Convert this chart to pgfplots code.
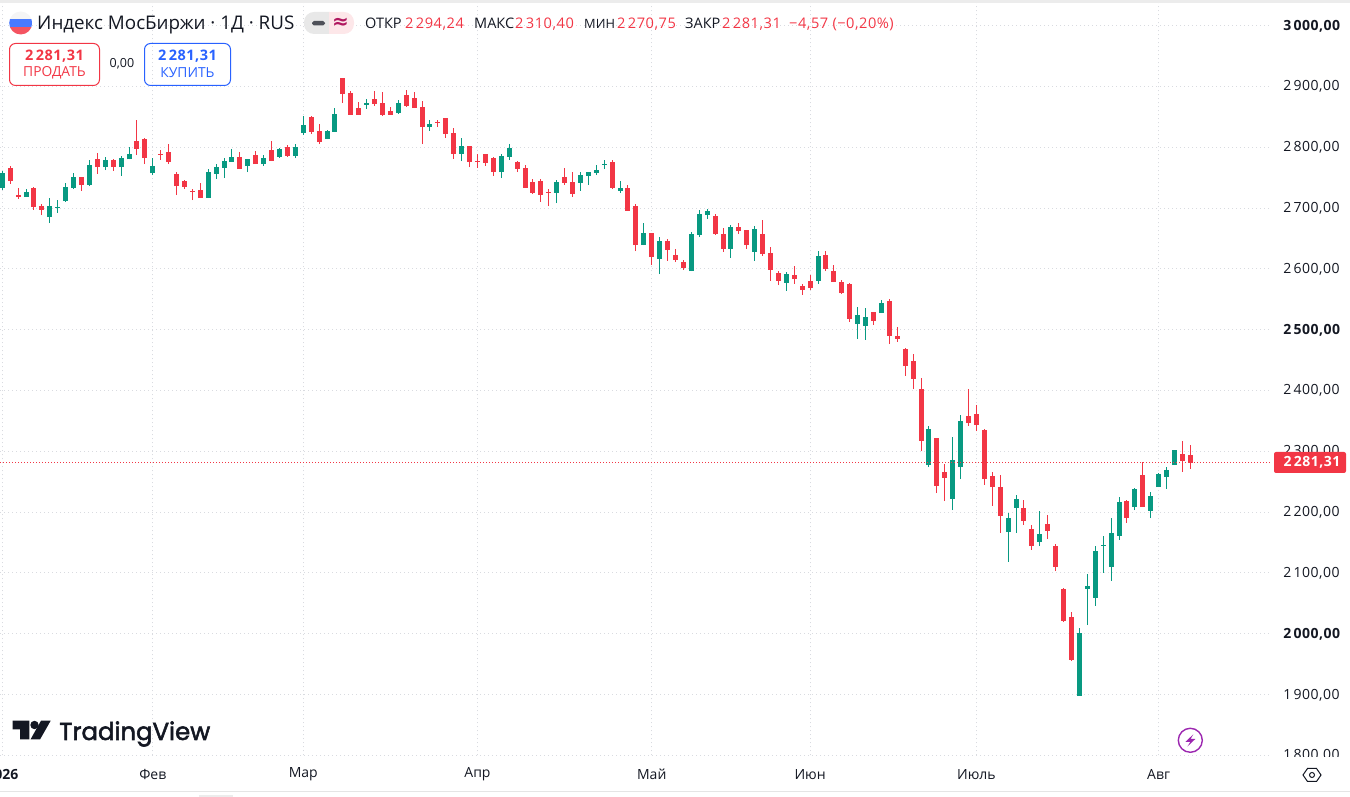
\documentclass[border=0pt]{standalone}
\usepackage{pgfplots}
\usepackage{pgfplotstable}
\usepackage{fontspec}
\pgfplotsset{compat=1.18}
\setmainfont{Open Sans}
\newfontfamily\numfont[LetterSpace=3.5]{Open Sans}
\newfontfamily\tvfont[FakeBold=2.2]{Poppins}
\newfontfamily\symfont{DejaVu Sans}
\definecolor{cred}{HTML}{F23645}
\definecolor{cgreen}{HTML}{089981}
\definecolor{cgrid}{HTML}{D9DBE0}
\definecolor{ctext}{HTML}{131722}
\definecolor{cblue}{HTML}{2962FF}
\definecolor{cpurple}{HTML}{9C27B0}
\definecolor{cmaroon}{HTML}{B0175F}
\pgfplotstableread{
i o h l c
0 2732.8 2760.8 2729.5 2757.5
3 2718 2731 2718 2726
6 2685 2716 2675 2703
7 2700.5 2713 2692 2701.6
8 2711 2741 2710 2734
9 2733 2757 2731 2751
11 2738 2779 2736 2771
13 2767 2784 2762 2779
15 2767 2785 2753 2782
16 2780 2800 2780 2789
19 2757 2782 2754 2769
26 2716 2764 2716 2759
27 2756 2772 2748 2767
28 2766 2782 2749 2777
29 2776 2797 2776 2784
31 2769 2780.5 2759 2780.5
33 2772 2787 2769 2782
35 2784 2799 2782 2797
37 2785.5 2805 2782 2800
38 2823 2851 2820 2836
41 2813 2828 2813 2827
42 2825 2864 2825 2854
46 2869.3 2879 2863 2872.6
50 2856 2877.5 2854.5 2873
54 2833 2845 2827 2838
58 2789 2815 2777 2802
63 2759 2789 2749 2785.5
64 2784 2805 2779 2799
70 2725 2746 2708 2743
73 2741 2759 2728 2754
74 2753 2759 2738 2759
75 2757.5 2771 2754 2762.4
76 2771.2 2779 2764 2772.3
78 2728 2744 2725 2733
81 2639 2675 2639 2659
83 2616 2652 2591 2646
87 2596 2660.5 2596 2657
88 2656 2697 2652 2690
89 2688 2698 2682 2695
92 2632.5 2672 2618 2669
95 2628 2670 2613 2665
99 2577 2595 2563.5 2591
103 2580 2629 2575 2621
108 2509 2537 2485 2524
109 2506 2535.5 2483 2521
111 2527 2549 2527 2544
117 2277 2341.5 2274 2337
120 2221.5 2323 2203 2286
121 2274 2360 2254 2350
127 2167 2198.5 2118 2190
128 2207 2228 2166 2221.5
131 2151 2202 2144 2164
136 1898 2009 1898 2001
137 2073.5 2098 2014 2078.5
138 2059 2144 2046 2136
139 2144.2 2161 2100 2145.8
140 2110 2190 2087 2166
141 2161 2225 2154 2216.5
143 2208 2240 2203 2238
145 2202 2233 2190 2226
146 2241 2264 2241 2263
147 2258 2274 2238 2269
148 2277 2302 2277 2302
}\greentable
\pgfplotstableread{
i o h l c
1 2766 2769 2740 2745
2 2721 2733 2715 2718
4 2733 2734 2697 2702
5 2703 2706 2688 2697
10 2751 2751 2728 2738
12 2780 2790 2756 2767
14 2779 2780 2761 2767
17 2810 2845 2787 2797
18 2813 2815 2772 2782
20 2789 2795 2779 2787.6
21 2792 2805 2772 2776
22 2756 2759 2721 2736
23 2744 2746 2731 2735
24 2728.4 2731 2713 2726.8
25 2730 2741 2716 2716
30 2784 2792 2764 2764
32 2787 2794 2772 2772
34 2795 2810 2777 2777
36 2800 2803 2784 2785.5
39 2850 2851 2822 2825
40 2827 2838 2805 2808
43 2914 2914 2873 2887
44 2889 2892 2853 2853
45 2864 2874 2853 2853
47 2879 2892 2868 2871
48 2873 2891 2851 2853
49 2859.5 2866 2853 2853
51 2886 2894 2866 2868
52 2881 2891 2864 2864
53 2866 2876 2805 2833
55 2841.9 2844.6 2833 2840.3
56 2848 2848 2815 2822
57 2823 2831.5 2780.5 2789
59 2802 2802 2767 2776
60 2777.2 2789 2766 2775.6
61 2789 2789 2769 2774
62 2782 2784 2753 2759
65 2776 2777 2759 2764
66 2766 2771 2733 2733
67 2743 2748 2723 2725
68 2744 2748 2710 2721
69 2726.3 2731 2703 2725.2
71 2751 2766 2738 2741
72 2743 2759 2718 2723
77 2776 2779 2731 2733
79 2733 2738 2695 2695
80 2703 2706 2629 2639
82 2659 2659 2606 2619
84 2646 2649 2613 2631
85 2623 2632 2611 2614
86 2611 2614.5 2598 2601
90 2687 2690 2656 2657
91 2657 2667 2628 2632.5
93 2669 2675 2657 2662
94 2664 2664 2632.5 2639
96 2657 2680 2621 2624
97 2626 2636 2580 2598
98 2593 2596 2573 2580
100 2590 2605 2575 2583
101 2572 2575 2557 2565
102 2580 2590 2565 2568
104 2623 2629 2596 2600
105 2596 2606 2578 2578
106 2578 2582 2559 2560
107 2575 2577 2512.5 2517.5
110 2529 2529 2508 2514
112 2547 2550 2476 2489.5
113 2489.5 2504 2480 2485
114 2468 2470 2424 2440
115 2448 2460 2402 2419
116 2402 2420 2300 2317
118 2322 2322 2231 2243
119 2266 2279 2218 2256
122 2358 2402 2341.5 2346
123 2361 2376 2333 2343
124 2335 2337 2244.5 2254
125 2259 2266 2210 2241
126 2241 2261 2166 2193.5
129 2207 2220 2179 2185
130 2172 2179 2138 2144
132 2180 2195 2156 2169
133 2144 2147 2103 2110
134 2073.5 2074.6 2019 2021
135 2027.5 2036 1955 1957
142 2218 2220 2182 2190
144 2261 2282 2208 2208
149 2295.5 2317 2266 2284
150 2294.24 2310.4 2270.75 2281.31
}\redtable
\begin{document}
\begin{tikzpicture}
\useasboundingbox (0,0) rectangle (1350pt,797pt);
\begin{axis}[
  at={(0pt,41.7pt)}, anchor=south west,
  scale only axis, width=1271.7pt, height=755.3pt,
  xmin=-0.29, xmax=160.28, ymin=1800, ymax=3041.9,
  axis line style={draw=none}, major tick length=0pt,
  grid=major,
  grid style={color=cgrid, line width=0.8pt, dash pattern=on 1pt off 3pt},
  xtick={0,19,38,60,82,102,123,146},
  xticklabels={\textbf{2026},Фев,Мар,Апр,Май,Июн,Июль,Авг},
  xticklabel style={font=\fontsize{14}{14}\selectfont, text=ctext, anchor=center, yshift=-19pt},
  ytick={1800,1900,...,3000},
  yticklabels={{1\,800,00},{1\,900,00},{\textbf{2\,000,00}},{2\,100,00},{2\,200,00},{2\,300,00},{2\,400,00},{\textbf{2\,500,00}},{2\,600,00},{2\,700,00},{2\,800,00},{2\,900,00},{\textbf{3\,000,00}}},
  yticklabel pos=right,
  yticklabel style={font=\numfont\fontsize{14}{14}\selectfont, text=ctext, anchor=west, xshift=8pt, yshift=-0.4pt},
]
\addplot[draw=none, no markers, error bars/.cd, y dir=plus, y explicit, error mark=none, error bar style={line width=1pt, draw=cgreen}]
  table[x=i, y=l, y error expr=\thisrow{h}-\thisrow{l}] {\greentable};
\addplot[draw=none, no markers, error bars/.cd, y dir=plus, y explicit, error mark=none, error bar style={line width=5pt, draw=cgreen}]
  table[x=i, y=o, y error expr=\thisrow{c}-\thisrow{o}] {\greentable};
\addplot[draw=none, no markers, error bars/.cd, y dir=plus, y explicit, error mark=none, error bar style={line width=1pt, draw=cred}]
  table[x=i, y=l, y error expr=\thisrow{h}-\thisrow{l}] {\redtable};
\addplot[draw=none, no markers, error bars/.cd, y dir=plus, y explicit, error mark=none, error bar style={line width=5pt, draw=cred}]
  table[x=i, y=c, y error expr=\thisrow{o}-\thisrow{c}] {\redtable};
\addplot[cred, line width=0.8pt, dash pattern=on 1pt off 2pt] coordinates {(-0.29,2281.31) (160.28,2281.31)};
\end{axis}
\begin{scope}[x=1pt, y=-1pt, yshift=797pt]
% page strips
\fill[gray!15] (0,0) rectangle (1350,3);
\fill[gray!20] (0,791) rectangle (1350,792);
\fill[gray!15] (199,795) rectangle (233,797);
% clip 1800 label
\fill[white] (1274,757) rectangle (1350,790);
% flag
\begin{scope}
\clip (20.7,23) circle (11.5);
\fill[gray!8] (9,11) rectangle (33,19);
\fill[cblue!85!white] (9,19) rectangle (33,27);
\fill[cred!85!white] (9,27) rectangle (33,35);
\end{scope}
% title
\node[anchor=base west, inner sep=0, text=ctext, font=\fontsize{18.8}{18.8}\selectfont] at (37,30) {Индекс МосБиржи · 1Д · RUS};
% pill
\fill[gray!18, rounded corners=10pt] (304,12) rectangle (340,34);
\fill[cred!12, rounded corners=10pt] (329,12) rectangle (354,34);
\fill[cred!12] (329,12) rectangle (340,34);
\fill[ctext!75, rounded corners=1.8pt] (312,21) rectangle (325,25.5);
\node[text=cmaroon, font=\symfont\bfseries\fontsize{20}{20}\selectfont, inner sep=0] at (340.5,23) {≈};
% OHLC
\tikzset{hdr/.style={anchor=base west, inner sep=0, font=\fontsize{14.5}{14.5}\selectfont},
         hnum/.style={anchor=base west, inner sep=0, text=cred, font=\numfont\fontsize{14.6}{14.6}\selectfont}}
\node[hdr, text=ctext] at (365,29) {ОТКР};
\node[hnum] at (405,29) {2\,294,24};
\node[hdr, text=ctext] at (474,29) {МАКС};
\node[hnum] at (515,29) {2\,310,40};
\node[hdr, text=ctext, font=\fontsize{12.8}{12.8}\selectfont] at (584,29) {МИН};
\node[hnum] at (617,29) {2\,270,75};
\node[hdr, text=ctext] at (685,29) {ЗАКР};
\node[hnum] at (722,29) {2\,281,31};
\node[hnum] at (789,29) {−4,57 (−0,20\%)};
% buttons
\draw[cred, line width=1pt, rounded corners=6pt] (9.5,43.5) rectangle (99.5,85.5);
\node[text=cred, font=\numfont\bfseries\fontsize{14.5}{14.5}\selectfont, inner sep=0] at (54.5,56.5) {2\,281,31};
\node[text=cred, font=\fontsize{13.8}{13.8}\selectfont, inner sep=0] at (54.5,73) {ПРОДАТЬ};
\node[text=ctext, font=\fontsize{12.5}{12.5}\selectfont, inner sep=0] at (122,63.5) {0,00};
\draw[cblue, line width=1pt, rounded corners=6pt] (144.5,43.5) rectangle (230.5,85.5);
\node[text=cblue, font=\numfont\bfseries\fontsize{14.5}{14.5}\selectfont, inner sep=0] at (187.5,56.5) {2\,281,31};
\node[text=cblue, font=\fontsize{13.8}{13.8}\selectfont, inner sep=0] at (187.5,73) {КУПИТЬ};
% price tag
\fill[cred, rounded corners=2pt] (1274,452) rectangle (1346,473);
\node[text=white, font=\numfont\bfseries\fontsize{14}{14}\selectfont, inner sep=0] at (1312,462.6) {2\,281,31};
% logo
\fill[ctext] (12.7,720.7) -- (29.3,720.7) -- (29.3,739.5) -- (20,739.5) -- (20,729.5) -- (12.7,729.5) -- cycle;
\fill[ctext] (34.5,725) circle (4.2);
\fill[ctext] (41,720.7) -- (50.7,720.7) -- (40,739.5) -- (30.5,739.5) -- cycle;
\node[anchor=base west, inner sep=0, text=ctext, font=\tvfont\fontsize{24.4}{24.4}\selectfont] at (59,740) {TradingView};
% lightning
\draw[cpurple, line width=1.4pt] (1190.3,740.3) circle (12);
\fill[cpurple] (1193.3,734.3) -- (1185.3,742) -- (1190.3,742) -- (1187.3,746.6) -- (1195.3,739) -- (1190.6,739) -- cycle;
% gear
\draw[ctext, line width=1pt] (1303,775) -- (1307.5,768.5) -- (1316.5,768.5) -- (1321,775) -- (1316.5,781.5) -- (1307.5,781.5) -- cycle;
\draw[ctext, line width=1pt] (1312,775) circle (2.5);
\end{scope}
\end{tikzpicture}
\end{document}
